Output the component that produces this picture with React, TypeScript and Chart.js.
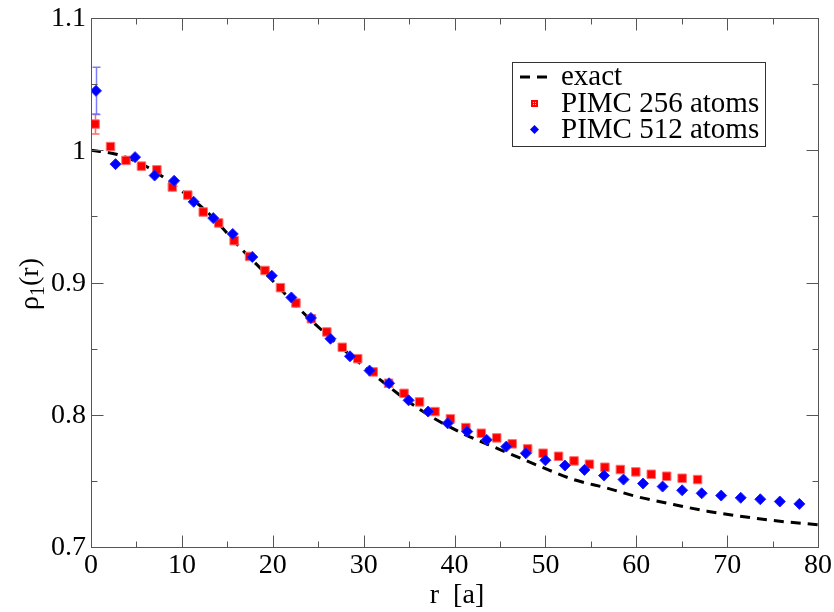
import React, { useEffect, useRef } from "react";
import { Chart, registerables } from "chart.js";
Chart.register(...registerables);

// exact curve
const rExact = [0, 2.9, 6.2, 10.1, 13.1, 16.4, 19.7, 23.2, 27.4, 31.8, 36.2, 40.4, 45.0, 49.4, 53.1, 56.7, 59.9, 64.1, 67.8, 71.4, 75.1, 80];
const rhoExact = [1.0, 0.9968, 0.9873, 0.9686, 0.9512, 0.9265, 0.9034, 0.8782, 0.8517, 0.8266, 0.8039, 0.7875, 0.7737, 0.761, 0.751, 0.7447, 0.7384, 0.7321, 0.7271, 0.7233, 0.72, 0.7168];

// PIMC 256 atoms
const r256 = [0.45, 2.15, 3.85, 5.55, 7.25, 8.95, 10.65, 12.35, 14.05, 15.75, 17.45, 19.15, 20.85, 22.55, 24.25, 25.95, 27.65, 29.35, 31.05, 32.75, 34.45, 36.15, 37.85, 39.55, 41.25, 42.95, 44.65, 46.35, 48.05, 49.75, 51.45, 53.15, 54.85, 56.55, 58.25, 59.95, 61.65, 63.35, 65.05, 66.75];
const rho256 = [1.0198, 1.0028, 0.9923, 0.988, 0.9852, 0.9722, 0.9661, 0.9533, 0.945, 0.9316, 0.9197, 0.9091, 0.8961, 0.8845, 0.8726, 0.8626, 0.851, 0.8424, 0.8324, 0.8238, 0.8162, 0.8097, 0.8024, 0.7969, 0.7903, 0.786, 0.7825, 0.778, 0.7742, 0.7709, 0.7686, 0.7651, 0.7626, 0.7603, 0.7586, 0.7568, 0.755, 0.7535, 0.752, 0.751];
const err256 = [0.0076];

// PIMC 512 atoms
const r512 = [0.55, 2.7, 4.85, 7.0, 9.15, 11.3, 13.45, 15.6, 17.75, 19.9, 22.05, 24.2, 26.35, 28.5, 30.65, 32.8, 34.95, 37.1, 39.25, 41.4, 43.55, 45.7, 47.85, 50.0, 52.15, 54.3, 56.45, 58.6, 60.75, 62.9, 65.05, 67.2, 69.35, 71.5, 73.65, 75.8, 77.95];
const rho512 = [1.0449, 0.9895, 0.9948, 0.9809, 0.9769, 0.961, 0.9487, 0.9367, 0.9193, 0.9051, 0.8887, 0.8732, 0.8575, 0.8442, 0.8334, 0.8238, 0.8109, 0.8024, 0.7935, 0.7873, 0.781, 0.7759, 0.7709, 0.7656, 0.7616, 0.7583, 0.754, 0.751, 0.748, 0.7457, 0.7429, 0.7406, 0.7389, 0.7372, 0.7361, 0.7344, 0.7326];
const err512 = [0.0178];

// axes
const xMajor = [0, 10, 20, 30, 40, 50, 60, 70, 80];
const xMinor = [5, 15, 25, 35, 45, 55, 65, 75];
const yMajor = [0.7, 0.8, 0.9, 1.0, 1.1];
const yMinor = [0.75, 0.85, 0.95, 1.05];
const yLabels = ["0.7", "0.8", "0.9", "1", "1.1"];
const legendLabels = ["exact", "PIMC 256 atoms", "PIMC 512 atoms"];
const xTitle = "r  [a]";

const SERIF = '"Liberation Serif", "Times New Roman", "DejaVu Serif", serif';
const RED = "#ff0000";
const BLUE = "#0000ff";

const decorPlugin = {
  id: "decor",
  beforeDatasetsDraw(chart: any) {
    const { ctx, scales } = chart;
    const x = scales.x, y = scales.y;
    const bars = [
      { r: r256, v: rho256, e: err256, c: "rgba(255,90,90,0.9)" },
      { r: r512, v: rho512, e: err512, c: "rgba(110,110,255,0.9)" },
    ];
    ctx.save();
    ctx.lineWidth = 1.5;
    for (const b of bars) {
      ctx.strokeStyle = b.c;
      for (let i = 0; i < b.e.length; i++) {
        const px = Math.round(x.getPixelForValue(b.r[i])) + 0.5;
        const y1 = y.getPixelForValue(b.v[i] + b.e[i]);
        const y2 = y.getPixelForValue(b.v[i] - b.e[i]);
        ctx.beginPath();
        ctx.moveTo(px, y1); ctx.lineTo(px, y2);
        ctx.moveTo(px - 4, y1); ctx.lineTo(px + 4, y1);
        ctx.moveTo(px - 4, y2); ctx.lineTo(px + 4, y2);
        ctx.stroke();
      }
    }
    ctx.restore();
  },
  afterDraw(chart: any) {
    const { ctx, chartArea: a, scales } = chart;
    const x = scales.x, y = scales.y;
    const L = Math.round(a.left) + 0.5, R = Math.round(a.right) + 0.5;
    const T = Math.round(a.top) + 0.5, B = Math.round(a.bottom) + 0.5;
    ctx.save();
    // frame
    ctx.strokeStyle = "#555";
    ctx.lineWidth = 1;
    ctx.strokeRect(L, T, R - L, B - T);
    // ticks
    ctx.beginPath();
    const xt = (vals: number[], len: number) => {
      for (const v of vals) {
        const px = Math.round(x.getPixelForValue(v)) + 0.5;
        ctx.moveTo(px, B); ctx.lineTo(px, B - len);
        ctx.moveTo(px, T); ctx.lineTo(px, T + len);
      }
    };
    const yt = (vals: number[], len: number) => {
      for (const v of vals) {
        const py = Math.round(y.getPixelForValue(v)) + 0.5;
        ctx.moveTo(L, py); ctx.lineTo(L + len, py);
        ctx.moveTo(R, py); ctx.lineTo(R - len, py);
      }
    };
    xt(xMajor, 12); xt(xMinor, 6); yt(yMajor, 12); yt(yMinor, 6);
    ctx.stroke();

    // tick labels
    ctx.fillStyle = "#000";
    ctx.font = `28px ${SERIF}`;
    ctx.textAlign = "center";
    ctx.textBaseline = "top";
    for (const v of xMajor) ctx.fillText(String(v), x.getPixelForValue(v), a.bottom + 5);
    ctx.textAlign = "right";
    ctx.textBaseline = "middle";
    yMajor.forEach((v, i) => ctx.fillText(yLabels[i], a.left - 5, y.getPixelForValue(v) + 1));

    // x title
    ctx.textAlign = "center";
    ctx.textBaseline = "alphabetic";
    ctx.font = `28px ${SERIF}`;
    ctx.fillText(xTitle, 457, 603);

    // y title: rho_1(r)
    ctx.save();
    ctx.translate(38, 284);
    ctx.rotate(-Math.PI / 2);
    ctx.textBaseline = "alphabetic";
    ctx.textAlign = "left";
    const big = `28px ${SERIF}`, small = `20px ${SERIF}`;
    ctx.font = big; const w1 = ctx.measureText("ρ").width;
    ctx.font = small; const w2 = ctx.measureText("1").width;
    ctx.font = big; const w3 = ctx.measureText("(r)").width;
    let cx = -(w1 + w2 + w3) / 2;
    ctx.font = big; ctx.fillText("ρ", cx, 0); cx += w1;
    ctx.font = small; ctx.fillText("1", cx, 6); cx += w2;
    ctx.font = big; ctx.fillText("(r)", cx, 0);
    ctx.restore();

    // legend
    ctx.strokeStyle = "#333";
    ctx.lineWidth = 1;
    ctx.strokeRect(512.5, 62.5, 253, 84);
    ctx.strokeStyle = "#000";
    ctx.lineWidth = 3;
    ctx.setLineDash([10, 7]);
    ctx.beginPath(); ctx.moveTo(520, 77); ctx.lineTo(547, 77); ctx.stroke();
    ctx.setLineDash([]);
    // red square
    ctx.fillStyle = RED;
    ctx.fillRect(531, 100, 7, 7);
    ctx.fillStyle = "rgba(255,200,200,0.9)";
    ctx.fillRect(533, 102, 1, 1); ctx.fillRect(535, 102, 1, 1); ctx.fillRect(533, 104, 1, 1); ctx.fillRect(535, 104, 1, 1);
    // blue diamond
    ctx.fillStyle = BLUE;
    ctx.beginPath();
    ctx.moveTo(534.5, 125); ctx.lineTo(539, 129.5); ctx.lineTo(534.5, 134); ctx.lineTo(530, 129.5); ctx.closePath(); ctx.fill();
    ctx.fillStyle = "#000";
    ctx.font = `29px ${SERIF}`;
    ctx.textAlign = "left";
    ctx.textBaseline = "alphabetic";
    ctx.fillText(legendLabels[0], 561, 85);
    ctx.fillText(legendLabels[1], 561, 112);
    ctx.fillText(legendLabels[2], 561, 138);
    ctx.restore();
  },
};

export default function App() {
  const ref = useRef<HTMLCanvasElement | null>(null);
  useEffect(() => {
    if (!ref.current) return;
    let chart: Chart | null = null;
    let cancelled = false;
    const build = () => {
      if (cancelled || !ref.current) return;
      chart = new Chart(ref.current, {
        type: "scatter",
        data: {
          datasets: [
            {
              label: legendLabels[2],
              data: r512.map((r, i) => ({ x: r, y: rho512[i] })),
              pointStyle: "rectRot",
              pointRadius: 5.5,
              backgroundColor: BLUE,
              borderColor: "#2020ff",
              borderWidth: 1,
              showLine: false,
            },
            {
              label: legendLabels[1],
              data: r256.map((r, i) => ({ x: r, y: rho256[i] })),
              pointStyle: "rect",
              pointRadius: 6,
              backgroundColor: RED,
              borderColor: "#ff7070",
              borderWidth: 1,
              showLine: false,
            },
            {
              type: "line",
              label: legendLabels[0],
              data: rExact.map((r, i) => ({ x: r, y: rhoExact[i] })),
              borderColor: "#000",
              borderWidth: 3,
              borderDash: [10, 7],
              pointRadius: 0,
              cubicInterpolationMode: "monotone",
              fill: false,
            } as any,
          ],
        },
        options: {
          animation: false,
          responsive: true,
          maintainAspectRatio: false,
          layout: { padding: { left: 91, top: 18, right: 16, bottom: 65 } },
          plugins: { legend: { display: false }, tooltip: { enabled: false } },
          scales: {
            x: { type: "linear", display: false, min: 0, max: 80 },
            y: { type: "linear", display: false, min: 0.7, max: 1.1 },
          },
        },
        plugins: [decorPlugin],
      });
    };
    const fonts: any = (document as any).fonts;
    if (fonts && fonts.load) {
      Promise.all([
        fonts.load('28px "Liberation Serif"', "PIMC 0123ρ"),
        fonts.load('20px "Liberation Serif"', "1"),
      ]).then(build, build);
    } else {
      build();
    }
    return () => {
      cancelled = true;
      if (chart) chart.destroy();
    };
  }, []);
  return (
    <div style={{ position: "absolute", left: 0, top: 0, width: 834, height: 612, background: "#fff" }}>
      <span style={{ fontFamily: "Liberation Serif", position: "absolute", left: -9999, top: 0 }}>PIMC ρ1</span>
      <canvas ref={ref} />
    </div>
  );
}
